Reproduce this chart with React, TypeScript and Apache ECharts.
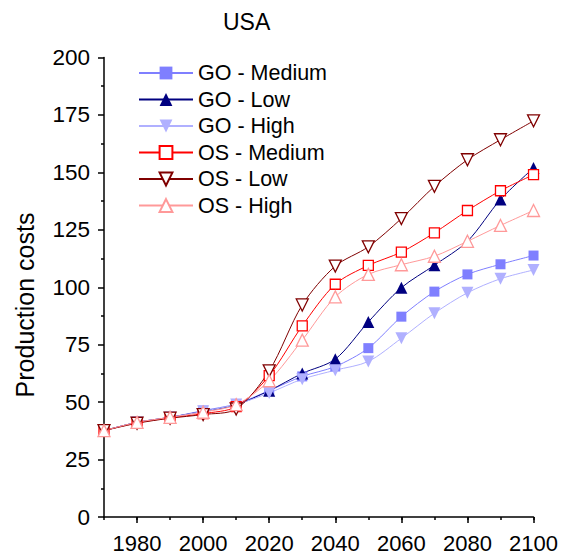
import React, { useEffect, useRef } from "react";
import * as echarts from "echarts";

const years = [1970, 1980, 1990, 2000, 2010, 2020, 2030, 2040, 2050, 2060, 2070, 2080, 2090, 2100];
const goMedium = [37.6, 41.2, 43.4, 46.3, 49.2, 55.0, 61.2, 65.5, 73.5, 87.2, 98.1, 105.6, 110.0, 113.8];
const goLow = [37.6, 41.2, 43.4, 46.0, 48.8, 55.0, 62.5, 68.7, 84.9, 99.8, 109.6, 120.0, 138.2, 151.9];
const goHigh = [37.6, 41.2, 43.4, 46.0, 49.0, 54.0, 60.0, 63.9, 67.7, 77.8, 88.7, 97.6, 103.7, 107.5];
const osMedium = [37.6, 41.0, 43.2, 45.0, 48.0, 61.5, 83.2, 101.3, 109.5, 115.3, 123.7, 133.4, 142.0, 149.0];
const osLow = [37.6, 40.8, 43.0, 44.6, 47.0, 63.6, 92.3, 109.2, 117.6, 129.9, 143.9, 155.5, 164.2, 172.4];
const osHigh = [37.6, 41.2, 43.4, 45.6, 48.9, 59.3, 77.0, 95.8, 105.6, 109.8, 113.5, 120.0, 126.9, 133.4];
const seriesNames = ["GO - Medium", "GO - Low", "GO - High", "OS - Medium", "OS - Low", "OS - High"];
const xLabelValues = [1980, 2000, 2020, 2040, 2060, 2080, 2100];
const xTickValues = [1970, 1980, 1990, 2000, 2010, 2020, 2030, 2040, 2050, 2060, 2070, 2080, 2090, 2100];

const FONT = "Arial, 'Liberation Sans', sans-serif";
const DOWN_TRI = "path://M0,0L2,0L1,1.732Z";

function pairs(vals: number[]) {
  return years.map((y, i) => [y, vals[i]]);
}

function mkSeries(name: string, vals: number[], color: string, symbol: string, size: number, hollow: boolean) {
  return {
    name,
    type: "line",
    data: pairs(vals),
    smooth: 0.3,
    symbol,
    symbolSize: size,
    clip: false,
    lineStyle: { color, width: 1 },
    itemStyle: hollow
      ? { color: "#ffffff", borderColor: color, borderWidth: 1.3 }
      : { color, borderColor: color, borderWidth: 0 },
    emphasis: { disabled: true },
  };
}

export default function App() {
  const ref = useRef<HTMLDivElement>(null);
  useEffect(() => {
    if (!ref.current) return;
    const chart = echarts.init(ref.current, null, { renderer: "svg" });
    chart.setOption({
      animation: false,
      backgroundColor: "#ffffff",
      textStyle: { fontFamily: FONT },
      title: {
        text: "USA",
        left: 218,
        top: 5,
        textStyle: { fontFamily: FONT, fontSize: 23, fontWeight: "normal", color: "#000" },
      },
      graphic: [
        {
          type: "text",
          x: 25,
          y: 305,
          rotation: Math.PI / 2,
          style: {
            text: "Production costs",
            fontFamily: FONT,
            fontSize: 25,
            fill: "#000",
            align: "center",
            verticalAlign: "middle",
          },
        },
      ],
      legend: {
        orient: "vertical",
        left: 133,
        top: 57,
        itemWidth: 54,
        itemHeight: 16,
        itemGap: 4.5,
        data: seriesNames,
        textStyle: { fontFamily: FONT, fontSize: 21.5, color: "#000" },
      },
      grid: { left: 104, right: 26, top: 57.5, bottom: 35.5, containLabel: false },
      xAxis: [
        {
          type: "value",
          min: 1970,
          max: 2100,
          interval: 10,
          axisLine: { show: true, lineStyle: { color: "#000", width: 1.5 } },
          axisTick: { show: true, length: 3, customValues: xTickValues, lineStyle: { color: "#000", width: 1.5 } },
          axisLabel: {
            customValues: xLabelValues,
            formatter: (v: number) => String(v),
            margin: 15,
            fontFamily: FONT,
            fontSize: 22,
            color: "#000",
          },
          splitLine: { show: false },
        },
        {
          type: "value",
          min: 1970,
          max: 2100,
          interval: 10,
          position: "bottom",
          axisLine: { show: false },
          axisTick: { show: true, length: 6, customValues: xLabelValues, lineStyle: { color: "#000", width: 1.5 } },
          axisLabel: { show: false },
          splitLine: { show: false },
        },
      ],
      yAxis: {
        type: "value",
        min: 0,
        max: 200,
        interval: 25,
        axisLine: { show: true, lineStyle: { color: "#000", width: 1.5 } },
        axisTick: { show: true, length: 6, lineStyle: { color: "#000", width: 1.5 } },
        minorTick: { show: true, splitNumber: 2, length: 3, lineStyle: { color: "#000", width: 1.5 } },
        axisLabel: { margin: 14, fontFamily: FONT, fontSize: 22.5, color: "#000" },
        splitLine: { show: false },
      },
      series: [
        mkSeries(seriesNames[0], goMedium, "#7f7fff", "rect", 10, false),
        mkSeries(seriesNames[1], goLow, "#000080", "triangle", 12, false),
        mkSeries(seriesNames[2], goHigh, "#b0b0ff", DOWN_TRI, 12, false),
        mkSeries(seriesNames[3], osMedium, "#ff0000", "rect", 10, true),
        mkSeries(seriesNames[4], osLow, "#800000", DOWN_TRI, 12, true),
        mkSeries(seriesNames[5], osHigh, "#ff9999", "triangle", 12, true),
      ],
    });
    return () => chart.dispose();
  }, []);
  return (
    <div
      ref={ref}
      style={{ position: "fixed", left: 0, top: 0, width: 561, height: 554, background: "#fff" }}
    />
  );
}
